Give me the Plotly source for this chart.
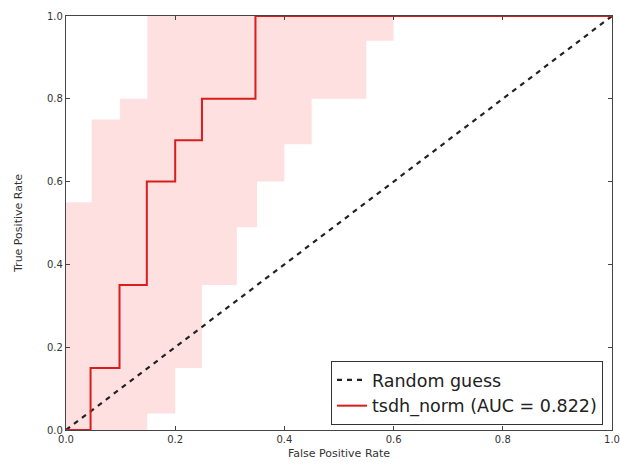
import plotly.graph_objects as go

# Mean ROC curve (step points)
roc_fpr = [0.0, 0.045, 0.098, 0.148, 0.2, 0.249, 0.347, 1.0]
roc_tpr = [0.0, 0.15, 0.35, 0.6, 0.7, 0.8, 1.0, 1.0]

# Upper band (mean + std, clipped)
upper_fpr = [0.0, 0.047, 0.099, 0.149, 1.0]
upper_tpr = [0.55, 0.75, 0.80, 1.0, 1.0]

# Lower band (mean - std, clipped)
lower_fpr = [0.0, 0.149, 0.2, 0.249, 0.313, 0.35, 0.40, 0.45, 0.55, 0.60, 1.0]
lower_tpr = [0.0, 0.04, 0.15, 0.35, 0.49, 0.6, 0.69, 0.80, 0.94, 1.0, 1.0]

diag = [0.0, 1.0]
ticks = [0.0, 0.2, 0.4, 0.6, 0.8, 1.0]
tick_text = ["0.0", "0.2", "0.4", "0.6", "0.8", "1.0"]

fig = go.Figure()
fig.add_trace(go.Scatter(x=lower_fpr, y=lower_tpr, mode="lines", line=dict(width=0, shape="hv"),
                         showlegend=False, hoverinfo="skip"))
fig.add_trace(go.Scatter(x=upper_fpr, y=upper_tpr, mode="lines", line=dict(width=0, shape="hv"),
                         fill="tonexty", fillcolor="rgba(255,0,0,0.12)",
                         showlegend=False, hoverinfo="skip"))
fig.add_trace(go.Scatter(x=diag, y=diag, mode="lines", name="Random guess",
                         line=dict(color="#222222", width=2.2, dash="5px,5px")))
fig.add_trace(go.Scatter(x=roc_fpr, y=roc_tpr, mode="lines", name="tsdh_norm (AUC = 0.822)",
                         line=dict(color="#d91c1c", width=2, shape="hv")))

axis_common = dict(range=[0, 1], tickvals=ticks, ticktext=tick_text, ticks="inside",
                   ticklen=4, tickcolor="#444", showline=True, linecolor="#444", linewidth=1.2,
                   mirror="allticks", showgrid=False, zeroline=False, automargin=False,
                   tickfont=dict(family="DejaVu Sans", size=10, color="#333"))

fig.update_layout(
    width=620, height=475,
    margin=dict(l=66, r=8, t=16, b=45),
    paper_bgcolor="white", plot_bgcolor="white",
    xaxis=dict(**axis_common, title=dict(text="False Positive Rate", standoff=5,
               font=dict(family="DejaVu Sans", size=11, color="#333"))),
    yaxis=dict(**axis_common, title=dict(text="True Positive Rate", standoff=22,
               font=dict(family="DejaVu Sans", size=11, color="#333"))),
    legend=dict(x=0.9835, y=0.012, xanchor="right", yanchor="bottom",
                bgcolor="white", bordercolor="#333", borderwidth=1,
                font=dict(family="DejaVu Sans", size=17.5, color="#222"),
                traceorder="normal", tracegroupgap=0, itemwidth=30),
    showlegend=True,
)

fig.write_html("out.html", config={"displayModeBar": False},
               post_script="document.body.style.margin='0';")
